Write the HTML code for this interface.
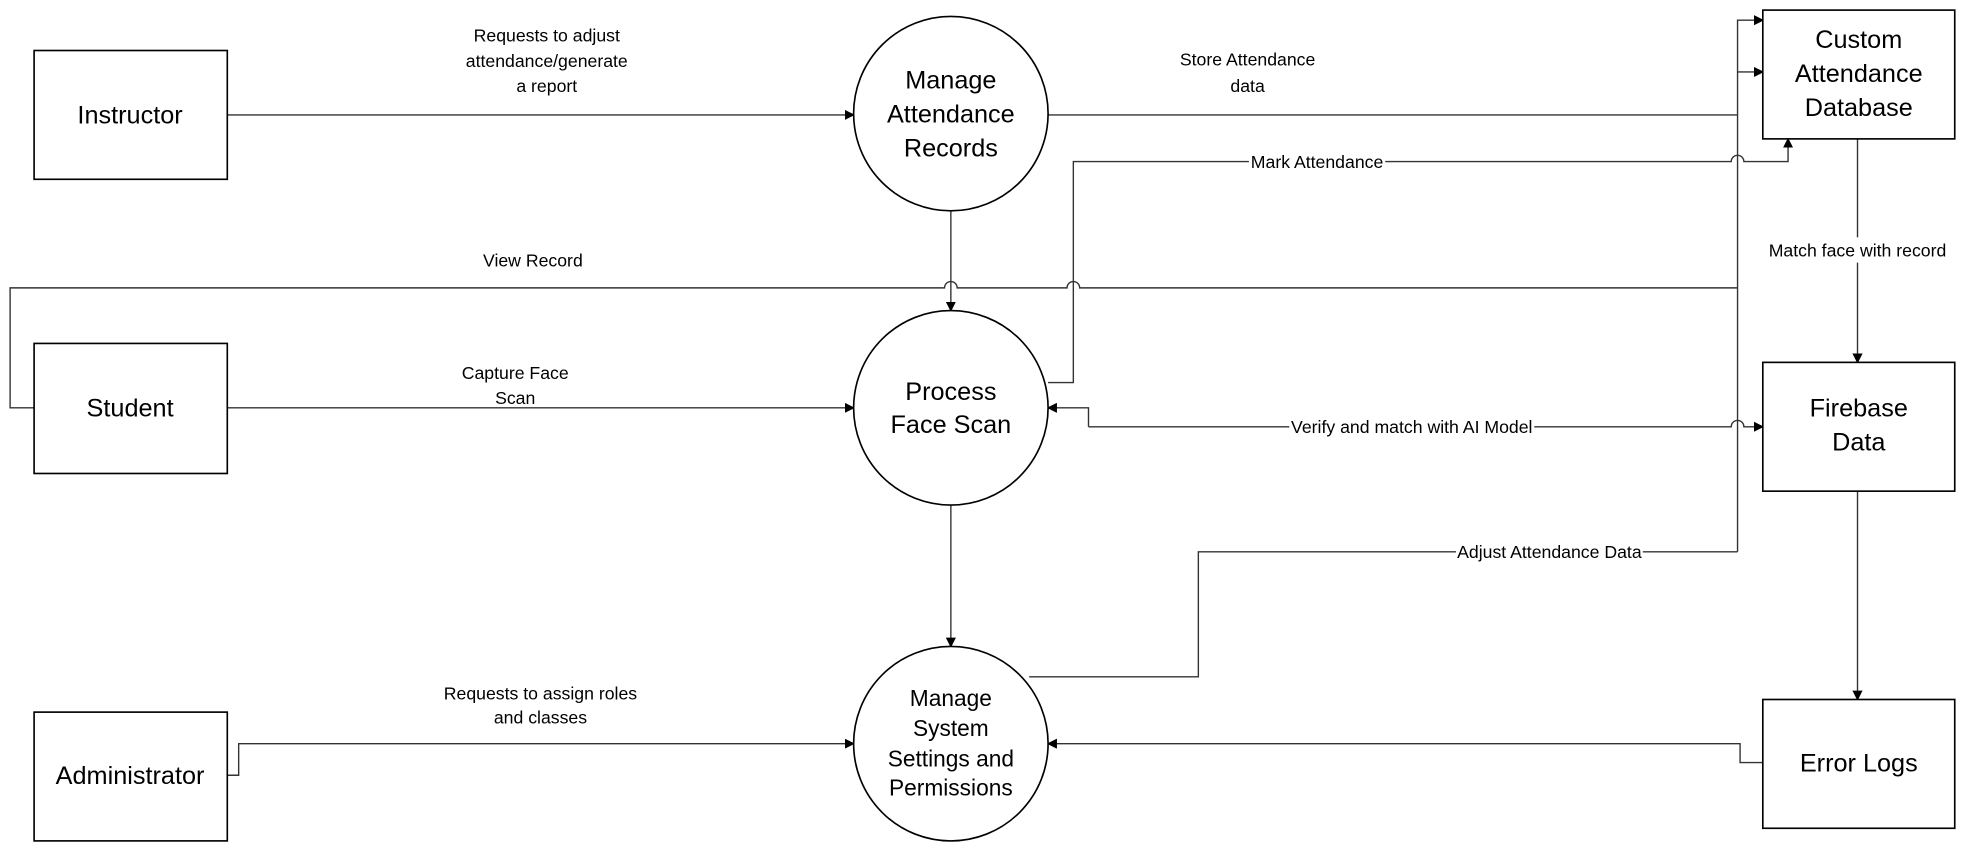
<!DOCTYPE html>
<html><head><meta charset="utf-8"><style>
html,body{margin:0;padding:0;background:#fff;width:1980px;height:851px;overflow:hidden}
svg{display:block}
text{font-family:"Liberation Sans",sans-serif;fill:#000}
.n{font-size:20px;text-anchor:middle}
.l{font-size:14px;text-anchor:middle}
.ln{stroke:#333;stroke-width:1.1;fill:none}
.bx{stroke:#000;stroke-width:1.3;fill:#fff}
</style></head><body>
<svg width="1980" height="851" viewBox="0 0 1568 674" preserveAspectRatio="none">
<defs><marker id="a" markerWidth="8" markerHeight="8" refX="7" refY="4" orient="auto" markerUnits="userSpaceOnUse"><path d="M0,0 L8,4 L0,8z" fill="#000"/></marker></defs>
<path class="ln" d="M180,91 H676" marker-end="url(#a)"/>
<path class="ln" d="M830,91 H1376"/>
<path class="ln" d="M1376,437 V16 H1396" marker-end="url(#a)"/>
<path class="ln" d="M1376,57 H1396" marker-end="url(#a)"/>
<path class="ln" d="M830,303 H850 V128 H1371 a5,5 0 0 1 10,0 H1416 V110" marker-end="url(#a)"/>
<path class="ln" d="M27,323 H8 V228 H748 a5,5 0 0 1 10,0 H845 a5,5 0 0 1 10,0 H1376"/>
<path class="ln" d="M180,323 H676" marker-end="url(#a)"/>
<path class="ln" d="M753,167 V246" marker-end="url(#a)"/>
<path class="ln" d="M862,338 V323 H830" marker-end="url(#a)"/>
<path class="ln" d="M862,338 H1371 a5,5 0 0 1 10,0 H1396" marker-end="url(#a)"/>
<path class="ln" d="M1471,110 V287" marker-end="url(#a)"/>
<path class="ln" d="M753,400 V512" marker-end="url(#a)"/>
<path class="ln" d="M815,536 H949 V437 H1376"/>
<path class="ln" d="M180,614 H189 V589 H676" marker-end="url(#a)"/>
<path class="ln" d="M1396,604 H1378 V589 H830" marker-end="url(#a)"/>
<path class="ln" d="M1471,389 V554" marker-end="url(#a)"/>
<rect class="bx" x="27" y="40" width="153" height="102"/>
<rect class="bx" x="27" y="272" width="153" height="103"/>
<rect class="bx" x="27" y="564" width="153" height="102"/>
<rect class="bx" x="1396" y="8" width="152" height="102"/>
<rect class="bx" x="1396" y="287" width="152" height="102"/>
<rect class="bx" x="1396" y="554" width="152" height="102"/>
<circle class="bx" cx="753" cy="90" r="77"/>
<circle class="bx" cx="753" cy="323" r="77"/>
<circle class="bx" cx="753" cy="589" r="77"/>
<text class="n" x="103" y="98">Instructor</text>
<text class="n" x="103" y="330">Student</text>
<text class="n" x="103" y="621">Administrator</text>
<text class="n" x="1472" y="38">Custom</text>
<text class="n" x="1472" y="65">Attendance</text>
<text class="n" x="1472" y="92">Database</text>
<text class="n" x="1472" y="330">Firebase</text>
<text class="n" x="1472" y="357">Data</text>
<text class="n" x="1472" y="611">Error Logs</text>
<text class="n" x="753" y="70">Manage</text>
<text class="n" x="753" y="97">Attendance</text>
<text class="n" x="753" y="124">Records</text>
<text class="n" x="753" y="317">Process</text>
<text class="n" x="753" y="343">Face Scan</text>
<text class="n" x="753" y="559" style="font-size:18px">Manage</text>
<text class="n" x="753" y="583" style="font-size:18px">System</text>
<text class="n" x="753" y="607" style="font-size:18px">Settings and</text>
<text class="n" x="753" y="630" style="font-size:18px">Permissions</text>
<text class="l" x="433" y="33">Requests to adjust</text>
<text class="l" x="433" y="53">attendance/generate</text>
<text class="l" x="433" y="73">a report</text>
<text class="l" x="988" y="52">Store Attendance</text>
<text class="l" x="988" y="73">data</text>
<rect x="989" y="120" width="108" height="16" fill="#fff"/>
<text class="l" x="1043" y="133">Mark Attendance</text>
<text class="l" x="422" y="211">View Record</text>
<text class="l" x="408" y="300">Capture Face</text>
<text class="l" x="408" y="320">Scan</text>
<rect x="1021" y="330" width="194" height="16" fill="#fff"/>
<text class="l" x="1118" y="343">Verify and match with AI Model</text>
<rect x="1399" y="188" width="144" height="20" fill="#fff"/>
<text class="l" x="1471" y="203">Match face with record</text>
<rect x="1153" y="429" width="148" height="16" fill="#fff"/>
<text class="l" x="1227" y="442">Adjust Attendance Data</text>
<text class="l" x="428" y="554">Requests to assign roles</text>
<text class="l" x="428" y="573">and classes</text>
</svg>
</body></html>
